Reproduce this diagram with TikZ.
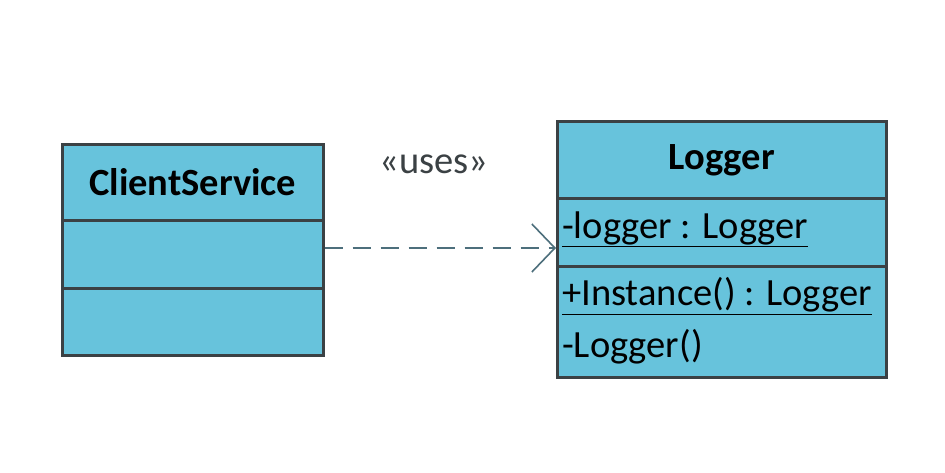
\documentclass[tikz,border=0pt]{standalone}
\usepackage{fontspec}
\setmainfont{Carlito}
\usetikzlibrary{arrows.meta}
\definecolor{umlfill}{HTML}{67C3DC}
\definecolor{umlline}{HTML}{3B4144}
\definecolor{deplne}{HTML}{4D6F7C}
\begin{document}
\begin{tikzpicture}[x=1pt,y=-1pt,
  comp/.style={draw=umlline,fill=umlfill,line width=2.6pt,rectangle,anchor=north west,inner sep=0pt},
  title/.style={font=\fontsize{38.5}{42}\selectfont\bfseries,text=black},
  member/.style={font=\fontsize{38.5}{42}\selectfont,text=black,anchor=west,inner sep=0pt},
  dep/.style={draw=deplne,line width=1.8pt,dash pattern=on 18pt off 10pt,-{Straight Barb[length=23pt,width=48pt,line width=1.6pt]}}]
\useasboundingbox[fill=white] (0,0) rectangle (945,472);
% ClientService
\node[comp,minimum width=261pt,minimum height=76pt] (cs1) at (61,143) {};
\node[comp,minimum width=261pt,minimum height=68pt] (cs2) at (61,219) {};
\node[comp,minimum width=261pt,minimum height=67pt] (cs3) at (61,287) {};
\node[title] (csname) at (cs1.center) {ClientService};
% Logger
\node[comp,minimum width=329pt,minimum height=77pt] (lg1) at (556,120) {};
\node[comp,minimum width=329pt,minimum height=68pt] (lg2) at (556,197) {};
\node[comp,minimum width=329pt,minimum height=111pt] (lg3) at (556,265) {};
\node[title] (lgname) at (lg1.center) {Logger};
\node[member] (attr) at (562,229) {\underline{-logger : Logger}};
\node[member] (op1) at (562,296) {\underline{+Instance() : Logger}};
\node[member] (op2) at (562,347) {-Logger()};
% dependency
\node[font=\fontsize{38.5}{42}\selectfont,text=umlline] (lbl) at (434,164) {«uses»};
\draw[dep] (cs2.east |- 0,248) -- (lg2.west |- 0,248);
\end{tikzpicture}
\end{document}
